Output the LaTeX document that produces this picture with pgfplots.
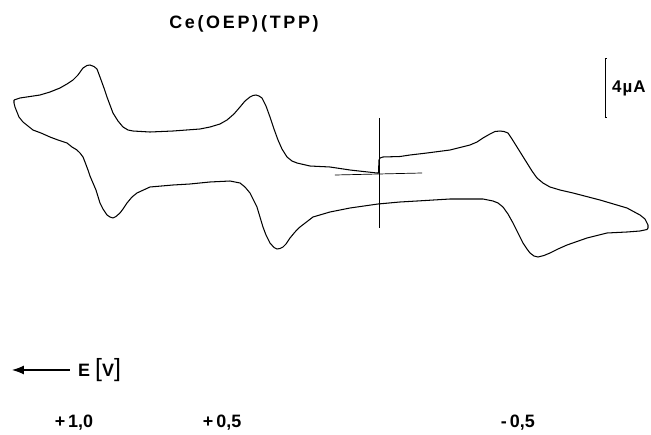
\documentclass[border=0pt]{standalone}
\usepackage{fontspec}
\setmainfont{Liberation Sans}
\usepackage{pgfplots}
\pgfplotsset{compat=1.18}
\usetikzlibrary{arrows.meta}
\begin{document}
\begin{tikzpicture}
\begin{axis}[
  scale only axis, width=651bp, height=435bp,
  hide axis, clip=false,
  x dir=reverse,
  xmin=-0.9388, xmax=1.2755,
  ymin=-17.695, ymax=11.797,
]
% cyclic voltammogram: E (V) vs I (uA)
\addplot[black, line width=1.05pt, line join=round] coordinates {
(1.2279,5.017) (1.2075,5.153) (1.1735,5.254) (1.1395,5.356) (1.1054,5.559)
(1.0714,5.831) (1.0476,6.102) (1.0272,6.373) (1.0102,6.712) (0.9932,7.186)
(0.9796,7.356) (0.9694,7.390) (0.9558,7.288) (0.9456,7.119) (0.9354,6.576)
(0.9218,5.831) (0.9116,5.220) (0.9014,4.678) (0.8912,4.136) (0.8741,3.593)
(0.8571,3.186) (0.8401,2.983) (0.8231,2.915) (0.7653,2.847) (0.6871,2.915)
(0.5952,3.051) (0.5612,3.186) (0.5272,3.390) (0.5034,3.661) (0.4796,4.068)
(0.4592,4.542) (0.4422,4.949) (0.4252,5.220) (0.4150,5.322) (0.4048,5.356)
(0.3946,5.288) (0.3844,5.153) (0.3707,4.610) (0.3571,3.864) (0.3435,3.051)
(0.3299,2.305) (0.3163,1.695) (0.2993,1.153) (0.2823,0.881) (0.2653,0.746)
(0.2211,0.542) (0.1531,0.475) (0.0850,0.271) (-0.0068,0.068) (-0.0119,0.068)
(-0.0136,0.949) (-0.0170,1.085) (-0.0272,1.153) (-0.0850,1.186) (-0.1190,1.288)
(-0.1769,1.424) (-0.2551,1.627) (-0.3231,1.966) (-0.3469,2.169) (-0.3673,2.441)
(-0.3912,2.712) (-0.4082,2.881) (-0.4252,2.915) (-0.4388,2.881) (-0.4524,2.780)
(-0.4660,2.373) (-0.4830,1.831) (-0.5000,1.288) (-0.5170,0.746) (-0.5340,0.203)
(-0.5510,-0.271) (-0.5714,-0.610) (-0.5952,-0.881) (-0.6293,-1.085) (-0.6735,-1.288)
(-0.7653,-1.763) (-0.8571,-2.305) (-0.9014,-2.780) (-0.9184,-3.051) (-0.9286,-3.458)
(-0.9286,-3.661) (-0.9252,-3.763) (-0.9014,-3.864) (-0.8571,-3.932) (-0.7891,-4.000)
(-0.7211,-4.339) (-0.6531,-4.814) (-0.6224,-5.085) (-0.5952,-5.356) (-0.5748,-5.525)
(-0.5544,-5.627) (-0.5408,-5.559) (-0.5272,-5.356) (-0.5170,-5.085) (-0.5034,-4.678)
(-0.4864,-4.000) (-0.4694,-3.322) (-0.4524,-2.712) (-0.4354,-2.237) (-0.4184,-1.966)
(-0.4014,-1.831) (-0.3673,-1.695) (-0.2551,-1.695) (-0.1429,-1.831) (-0.0850,-1.898)
(-0.0102,-2.034) (0.0850,-2.305) (0.1531,-2.576) (0.2109,-2.915) (0.2551,-3.593)
(0.2721,-3.932) (0.2891,-4.339) (0.3027,-4.746) (0.3129,-4.949) (0.3231,-5.051)
(0.3333,-5.085) (0.3435,-4.983) (0.3571,-4.678) (0.3707,-4.136) (0.3810,-3.593)
(0.3912,-2.915) (0.4014,-2.237) (0.4150,-1.695) (0.4252,-1.288) (0.4422,-0.881)
(0.4592,-0.610) (0.4932,-0.475) (0.5612,-0.542) (0.6293,-0.678) (0.6871,-0.746)
(0.7653,-0.881) (0.8095,-1.288) (0.8265,-1.559) (0.8435,-1.966) (0.8571,-2.373)
(0.8673,-2.644) (0.8810,-2.881) (0.8912,-2.983) (0.9014,-2.915) (0.9116,-2.780)
(0.9252,-2.373) (0.9354,-1.966) (0.9490,-1.085) (0.9592,-0.610) (0.9694,-0.136)
(0.9762,0.271) (0.9864,0.814) (0.9932,1.153) (1.0034,1.424) (1.0136,1.627)
(1.0306,1.831) (1.0476,2.102) (1.0782,2.305) (1.1054,2.508) (1.1361,2.780)
(1.1633,2.983) (1.1803,3.254) (1.1973,3.525) (1.2109,3.864) (1.2177,4.203)
(1.2245,4.542) (1.2279,4.814) (1.2279,5.017)
};
% crosshair
\addplot[black, line width=0.7pt] coordinates {(-0.0136,3.797) (-0.0136,-3.661)};
\addplot[black, line width=0.7pt] coordinates {(0.1361,-0.068) (-0.1600,0.068)};
% scale bar 4 uA
\addplot[black, line width=1pt] coordinates {(-0.7857,7.864) (-0.7857,3.864)};
\addplot[black, line width=1pt] coordinates {(-0.7823,7.864) (-0.7891,7.864)};
\addplot[black, line width=1pt] coordinates {(-0.7823,3.864) (-0.7891,3.864)};
% E arrow
\addplot[black, line width=1.1pt, -{Latex[length=12pt,width=9pt]}] coordinates {(1.0374,-13.288) (1.2347,-13.288)};
% texts
\node[font=\fontsize{18}{18}\selectfont\bfseries\addfontfeatures{LetterSpace=15}] at (axis cs:0.4456,10.17) {Ce(OEP)\,(TPP)};
\node[anchor=west, inner sep=0pt, font=\fontsize{17}{17}\selectfont\bfseries\addfontfeatures{LetterSpace=6}] at (axis cs:-0.806,5.83) {4µA};
\node[anchor=west, inner sep=0pt, font=\fontsize{18}{18}\selectfont\bfseries] at (axis cs:1.0102,-13.29) {E\hspace{5pt}{\fontsize{25}{25}\selectfont\mdseries[}V{\fontsize{25}{25}\selectfont\mdseries]}};
\node[font=\fontsize{18}{18}\selectfont\bfseries] at (axis cs:1.0238,-16.88) {+\,1,0};
\node[font=\fontsize{18}{18}\selectfont\bfseries] at (axis cs:0.520,-16.88) {+\,0,5};
\node[font=\fontsize{18}{18}\selectfont\bfseries] at (axis cs:-0.486,-16.88) {-\,0,5};
\end{axis}
\pgfresetboundingbox
\path (0,0) rectangle (651bp,435bp);
\end{tikzpicture}
\end{document}
